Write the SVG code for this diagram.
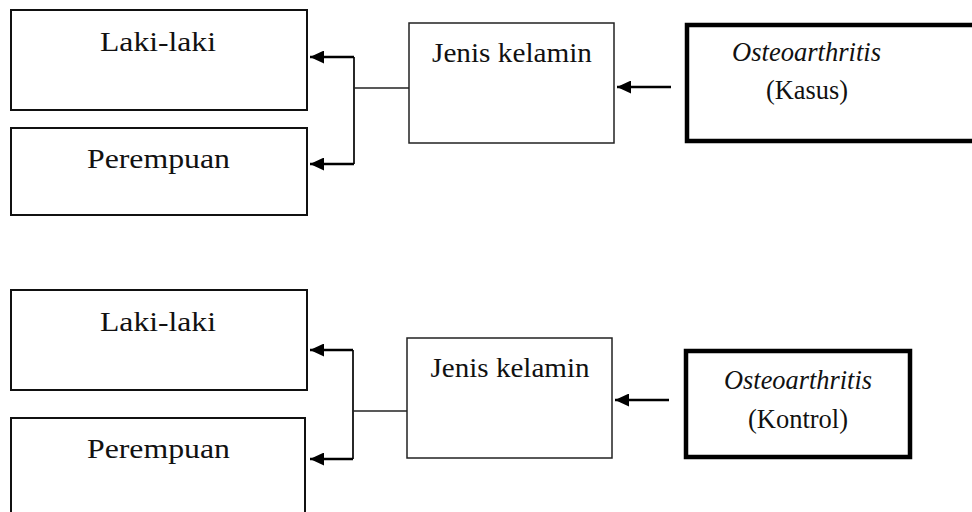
<svg xmlns="http://www.w3.org/2000/svg" width="972" height="512" viewBox="0 0 972 512">
<style>
  text { font-family: 'Liberation Serif', 'Times New Roman', Times, serif; font-size: 27px; fill: #111; text-anchor: middle; }
  .it { font-style: italic; }
  .box { fill: #fff; stroke: #111; stroke-width: 2; }
  .mid { fill: #fff; stroke: #222; stroke-width: 1.5; }
  .thick { fill: #fff; stroke: #000; stroke-width: 4.5; }
  .arr { fill: none; stroke: #000; stroke-width: 2.5; marker-end: url(#ah); }
  .thin { fill: none; stroke: #222; stroke-width: 1.4; }
  .vert { fill: none; stroke: #111; stroke-width: 1.8; }
</style>
<defs>
  <marker id="ah" markerUnits="userSpaceOnUse" markerWidth="15" markerHeight="13" refX="14" refY="6.5" orient="auto">
    <path d="M0,0 L14,6.5 L0,13 Z" fill="#000"/>
  </marker>
</defs>
<rect width="972" height="512" fill="#fff"/>

<g id="connectors">
  <path class="vert" d="M354 57 V164"/>
  <path class="arr" d="M354 57 H310"/>
  <path class="arr" d="M354 164 H310"/>
  <path class="thin" d="M354 88 H409"/>
  <path class="arr" d="M671 87 H617"/>

  <path class="vert" d="M353 350 V459"/>
  <path class="arr" d="M353 350 H310"/>
  <path class="arr" d="M353 459 H310"/>
  <path class="thin" d="M353 411 H407"/>
  <path class="arr" d="M669 400 H615"/>
</g>

<g id="laki1">
  <rect class="box" x="11" y="10" width="296" height="100"/>
  <text x="158" y="51" textLength="116" lengthAdjust="spacingAndGlyphs">Laki-laki</text>
</g>
<g id="perempuan1">
  <rect class="box" x="11" y="128" width="296" height="87"/>
  <text x="158.5" y="168" textLength="143" lengthAdjust="spacingAndGlyphs">Perempuan</text>
</g>
<g id="jenis1">
  <rect class="mid" x="409" y="23" width="205" height="120"/>
  <text x="512" y="62" textLength="160" lengthAdjust="spacingAndGlyphs">Jenis kelamin</text>
</g>
<g id="oa1">
  <rect class="thick" x="687" y="25" width="300" height="116"/>
  <text class="it" x="806.5" y="61" textLength="149" lengthAdjust="spacingAndGlyphs">Osteoarthritis</text>
  <text x="807" y="99" textLength="82" lengthAdjust="spacingAndGlyphs">(Kasus)</text>
</g>

<g id="laki2">
  <rect class="box" x="11" y="290" width="296" height="100"/>
  <text x="158" y="331" textLength="116" lengthAdjust="spacingAndGlyphs">Laki-laki</text>
</g>
<g id="perempuan2">
  <rect class="box" x="11" y="418" width="294" height="110"/>
  <text x="158.5" y="458" textLength="143" lengthAdjust="spacingAndGlyphs">Perempuan</text>
</g>
<g id="jenis2">
  <rect class="mid" x="407" y="338" width="205" height="120"/>
  <text x="510" y="377" textLength="159" lengthAdjust="spacingAndGlyphs">Jenis kelamin</text>
</g>
<g id="oa2">
  <rect class="thick" x="686" y="351" width="224" height="106"/>
  <text class="it" x="798" y="389" textLength="148" lengthAdjust="spacingAndGlyphs">Osteoarthritis</text>
  <text x="798" y="428" textLength="100" lengthAdjust="spacingAndGlyphs">(Kontrol)</text>
</g>
</svg>
